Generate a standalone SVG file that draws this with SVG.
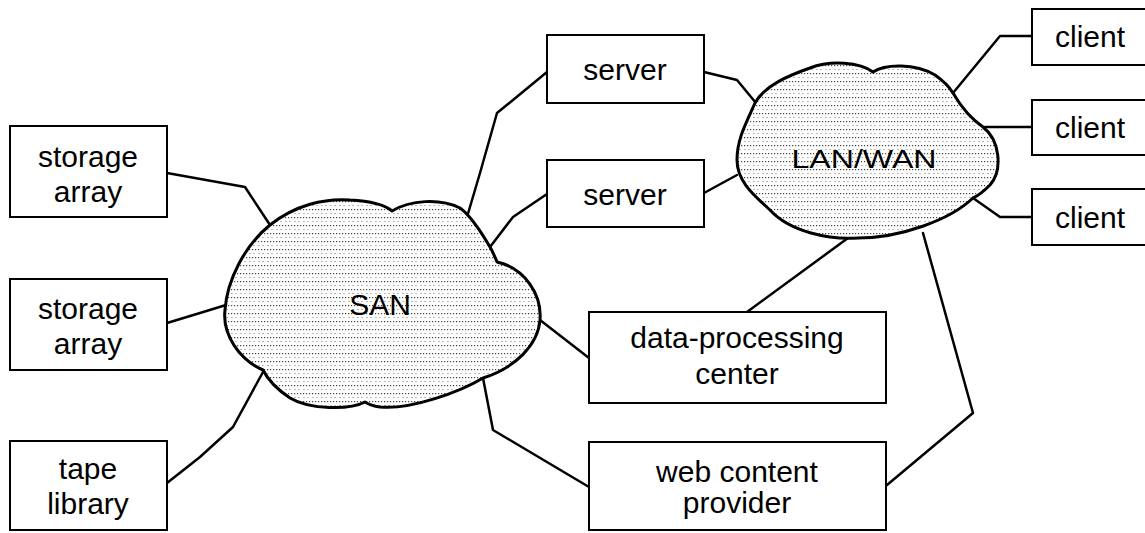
<svg xmlns="http://www.w3.org/2000/svg" width="1145" height="533" viewBox="0 0 1145 533">
<style>
.box{fill:#fff;stroke:#000;stroke-width:2}
.lbl{font-family:"Liberation Sans",Arial,sans-serif;font-size:30px;fill:#000;text-anchor:middle}
.conn{fill:none;stroke:#000;stroke-width:2.5;stroke-linejoin:round;stroke-linecap:round}
.cloud{fill:url(#dots);stroke:#000;stroke-width:3;stroke-linejoin:round}
</style>
<defs>
<pattern id="dots" width="9" height="8" patternUnits="userSpaceOnUse">
<rect width="9" height="8" fill="#fff"/>
<rect x="0" y="1" width="1.2" height="1.2" fill="#444"/>
<rect x="3" y="1" width="1.2" height="1.2" fill="#444"/>
<rect x="6" y="1" width="1.2" height="1.2" fill="#444"/>
<rect x="1.5" y="5" width="1" height="1" fill="#777"/>
<rect x="6.5" y="5" width="1" height="1" fill="#777"/>
</pattern>
</defs>
<rect width="1145" height="533" fill="#fff"/>
<g id="connectors">
<polyline class="conn" points="167,173 245,187 270,225"/>
<polyline class="conn" points="167,323 200,313 226,305"/>
<polyline class="conn" points="167,483 200,457 233,427 263,372"/>
<polyline class="conn" points="467,217 480,173 497,113 513,100 547,72"/>
<polyline class="conn" points="490,247 513,217 547,194"/>
<polyline class="conn" points="704,72 737,80 756,103"/>
<polyline class="conn" points="704,193 737,175"/>
<polyline class="conn" points="953,93 1000,36 1032,36"/>
<polyline class="conn" points="985,127 1032,127"/>
<polyline class="conn" points="973,198 1000,217 1032,217"/>
<polyline class="conn" points="848,238 747,312"/>
<polyline class="conn" points="923,233 973,413 887,485"/>
<polyline class="conn" points="540,320 589,358"/>
<polyline class="conn" points="483,378 493,430 589,487"/>
</g>
<g id="san">
<path class="cloud" d="M 270 225 C 295 205 325 198 350 200 C 370 201 385 205 392 211 C 410 200 440 198 460 208 C 470 215 480 230 490 247 C 493 252 495 257 497 262 C 525 268 542 295 540 320 C 538 345 515 368 483 378 C 460 392 410 410 380 407 C 372 406 368 404 365 402 C 350 410 310 410 290 398 C 278 390 268 380 263 370 C 240 360 222 335 225 310 C 227 280 245 245 270 225 Z"/>
<text class="lbl" x="380" y="315">SAN</text>
</g>
<g id="lanwan">
<path class="cloud" d="M 755 103 C 765 85 790 75 810 68 C 830 60 860 62 873 72 C 885 64 915 63 935 75 C 945 82 950 88 953 93 C 960 105 970 118 983 127 C 1000 140 1003 170 990 185 C 985 190 980 195 973 198 C 950 220 900 238 858 238 C 830 240 790 232 770 210 C 755 196 737 182 737 160 C 737 140 745 125 755 103 Z"/>
<text class="lbl" x="864" y="168" style="font-size:26px" textLength="145" lengthAdjust="spacingAndGlyphs">LAN/WAN</text>
</g>
<g id="storage1">
<rect class="box" x="10" y="126" width="157" height="91"/>
<text class="lbl" x="88" y="167">storage</text>
<text class="lbl" x="88" y="202">array</text>
</g>
<g id="storage2">
<rect class="box" x="10" y="279" width="157" height="91"/>
<text class="lbl" x="88" y="319">storage</text>
<text class="lbl" x="88" y="354">array</text>
</g>
<g id="tape">
<rect class="box" x="10" y="441" width="157" height="89"/>
<text class="lbl" x="88" y="479">tape</text>
<text class="lbl" x="88" y="514">library</text>
</g>
<g id="server1">
<rect class="box" x="547" y="35" width="157" height="68"/>
<text class="lbl" x="625" y="80">server</text>
</g>
<g id="server2">
<rect class="box" x="547" y="160" width="157" height="67"/>
<text class="lbl" x="625" y="205">server</text>
</g>
<g id="client1">
<rect class="box" x="1032" y="9" width="120" height="56"/>
<text class="lbl" x="1090" y="47">client</text>
</g>
<g id="client2">
<rect class="box" x="1032" y="100" width="120" height="55"/>
<text class="lbl" x="1090" y="138">client</text>
</g>
<g id="client3">
<rect class="box" x="1032" y="189" width="120" height="56"/>
<text class="lbl" x="1090" y="228">client</text>
</g>
<g id="dataproc">
<rect class="box" x="589" y="312" width="297" height="91"/>
<text class="lbl" x="737" y="348">data-processing</text>
<text class="lbl" x="737" y="384">center</text>
</g>
<g id="webcontent">
<rect class="box" x="589" y="442" width="297" height="88"/>
<text class="lbl" x="737" y="482">web content</text>
<text class="lbl" x="737" y="513">provider</text>
</g>
</svg>
